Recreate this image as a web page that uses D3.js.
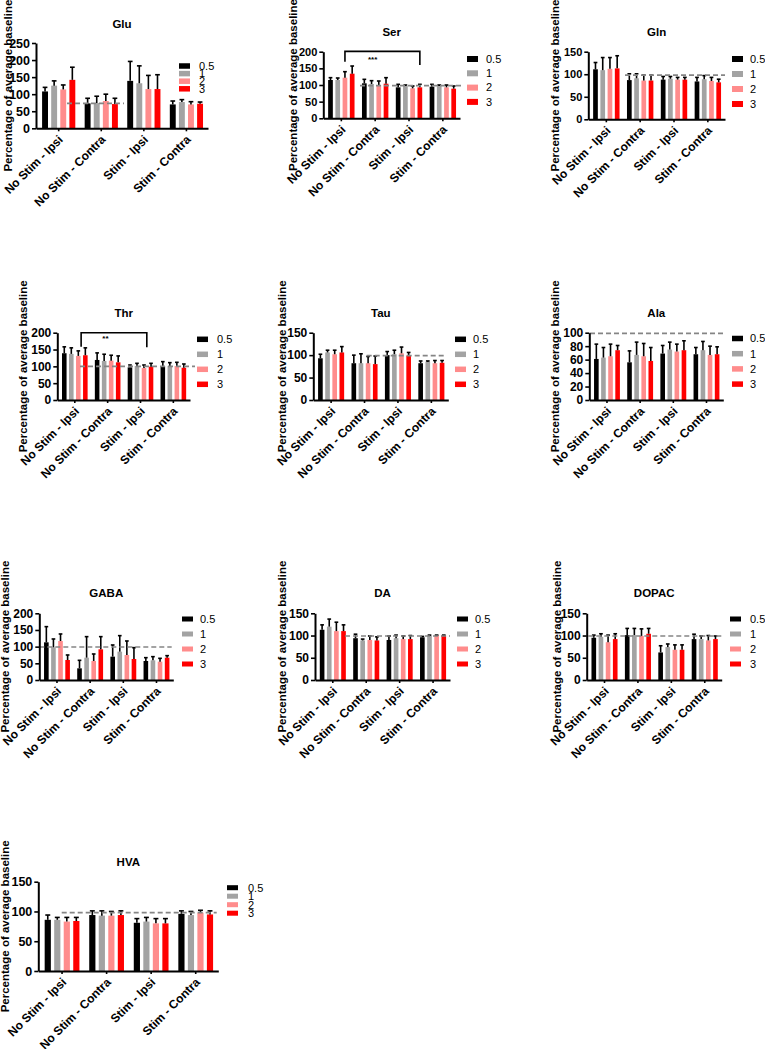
<!DOCTYPE html>
<html>
<head>
<meta charset="utf-8">
<script src="https://cdn.jsdelivr.net/npm/d3@7"></script>
<style>
  html, body { margin: 0; padding: 0; background: #fff; }
  svg { display: block; }
  text { font-family: "Liberation Sans", Arial, sans-serif; }
</style>
</head>
<body>
<script>
// ---------------- DATA ----------------
const categories = ["No Stim - Ipsi", "No Stim - Contra", "Stim - Ipsi", "Stim - Contra"];
const seriesNames = ["0.5", "1", "2", "3"];
const yLabel = "Percentage of average baseline";

// means [category][series]
const gluMean = [[108,125,114,142],[73,74,80,71],[139,132,115,115],[70,77,70,72]];
const gluSem  = [[12,14,13,37],[15,20,20,17],[57,51,40,42],[10,7,8,5]];
const serMean = [[115,115,122,134],[105,103,100,104],[93,97,90,93],[95,97,93,89]];
const serSem  = [[7,6,18,23],[12,10,12,18],[9,3,7,9],[7,3,7,8]];
const glnMean = [[111,109,112,113],[87,91,86,86],[88,90,88,88],[84,89,85,82]];
const glnSem  = [[15,28,25,28],[14,10,12,12],[7,5,5,5],[9,8,8,7]];
const thrMean = [[139,137,131,133],[119,116,117,112],[97,101,95,99],[101,101,101,96]];
const thrSem  = [[19,18,15,22],[21,20,16,19],[7,8,9,10],[13,10,11,11]];
const tauMean = [[93,106,102,106],[82,82,82,80],[100,102,104,99],[82,85,82,83]];
const tauSem  = [[9,5,9,13],[18,21,15,18],[8,9,14,7],[5,2,6,5]];
const alaMean = [[61,63,65,74],[56,67,65,58],[69,75,72,74],[68,74,67,68]];
const alaSem  = [[22,15,18,7],[17,19,19,20],[12,11,11,14],[10,13,13,11]];
const gabaMean = [[113,98,117,60],[35,67,57,92],[70,85,75,63],[57,59,55,67]];
const gabaSem  = [[47,25,21,15],[24,63,21,38],[35,48,42,34],[10,11,10,6]];
const daMean = [[113,120,110,110],[94,89,90,89],[90,94,92,92],[96,99,100,100]];
const daSem  = [[11,17,20,14],[9,3,9,8],[9,7,7,8],[2,2,1,1]];
const dopacMean = [[95,97,85,92],[101,101,99,104],[62,74,68,68],[92,92,89,92]];
const dopacSem  = [[6,7,16,12],[15,15,16,12],[15,7,11,11],[11,7,11,7]];
const hvaMean = [[86,86,83,84],[94,93,93,94],[81,83,80,80],[96,94,98,95]];
const hvaSem  = [[8,4,7,6],[7,8,7,7],[7,7,8,8],[5,6,4,6]];

// y-axis maxima and tick steps
const yMax  = {Glu:250, Ser:200, Gln:150, Thr:200, Tau:150, Ala:100, GABA:200, DA:150, DOPAC:150, HVA:150};
const yStep = {Glu:50,  Ser:50,  Gln:50,  Thr:50,  Tau:50,  Ala:20,  GABA:50,  DA:50,  DOPAC:50,  HVA:50};
// dashed reference (baseline) level
const baseline = {Glu:73, Ser:98, Gln:98, Thr:100, Tau:99, Ala:99, GABA:99, DA:99, DOPAC:99, HVA:98};
// significance brackets: [catIndex, seriesPos] ends, levels [leftEnd, top, rightEnd], label
const sigSer = {from:[0,2], to:[2,3], levels:[170,201,160], text:"***", textLevel:178};
const sigThr = {from:[0,2.4], to:[2,2.4], levels:[158,200,157], text:"**", textLevel:183};

const panelData = [
  {name:"Glu", mean:gluMean, sem:gluSem},
  {name:"Ser", mean:serMean, sem:serSem, sig:sigSer},
  {name:"Gln", mean:glnMean, sem:glnSem},
  {name:"Thr", mean:thrMean, sem:thrSem, sig:sigThr},
  {name:"Tau", mean:tauMean, sem:tauSem},
  {name:"Ala", mean:alaMean, sem:alaSem},
  {name:"GABA", mean:gabaMean, sem:gabaSem},
  {name:"DA", mean:daMean, sem:daSem},
  {name:"DOPAC", mean:dopacMean, sem:dopacSem},
  {name:"HVA", mean:hvaMean, sem:hvaSem}
];

// ---------------- LAYOUT / STYLE ----------------
const colors = ["#000000", "#a3a3a3", "#ff8c8c", "#ff0000"];
const layout = {
  Glu:  {x0:36,    x1:208,   yTop:43,    yBot:128.3, titleY:24,    ylabX:8,   legX:179, legTX:199, legY0:66,    legDy:7.6,  swH:5.5, tf:12.5, lf:11, dash:[67,124]},
  Ser:  {x0:323.3, x1:460,   yTop:51.7,  yBot:118.3, titleY:32,    ylabX:293, legX:467, legTX:486, legY0:59,    legDy:14.3, swH:6,   tf:11,   lf:11, dash:[360,463]},
  Gln:  {x0:588.3, x1:725,   yTop:51.7,  yBot:119.3, titleY:32,    ylabX:555, legX:732, legTX:750, legY0:59,    legDy:15,   swH:6,   tf:11,   lf:11, dash:[625,725]},
  Thr:  {x0:57.3,  x1:190,   yTop:332.7, yBot:400,   titleY:313,   ylabX:23,  legX:197, legTX:217, legY0:339.3, legDy:15,   swH:5.5, tf:12,   lf:11, dash:[80,195]},
  Tau:  {x0:313.3, x1:448.3, yTop:332.7, yBot:400,   titleY:313,   ylabX:282, legX:455, legTX:473, legY0:339.3, legDy:15,   swH:5.5, tf:12,   lf:11, dash:[366.7,445]},
  Ala:  {x0:589.3, x1:723.3, yTop:332.7, yBot:400,   titleY:313,   ylabX:555, legX:732, legTX:750, legY0:338.5, legDy:15.2, swH:5.5, tf:12,   lf:11, dash:[590,723]},
  GABA: {x0:39.3,  x1:173.3, yTop:613.3, yBot:680,   titleY:593.3, ylabX:5,   legX:182, legTX:200, legY0:619,   legDy:15,   swH:5,   tf:12,   lf:11, dash:[39.3,171.7]},
  DA:   {x0:315,   x1:450,   yTop:613.3, yBot:680,   titleY:593.3, ylabX:282, legX:457, legTX:475, legY0:619,   legDy:15,   swH:5,   tf:12,   lf:11, dash:[345,450]},
  DOPAC:{x0:586.7, x1:721.7, yTop:613.3, yBot:680,   titleY:593.3, ylabX:557, legX:730, legTX:750, legY0:619,   legDy:15,   swH:5,   tf:12,   lf:11, dash:[588.3,723.3]},
  HVA:  {x0:38.3,  x1:218.3, yTop:881.7, yBot:971,   titleY:861.7, ylabX:5,   legX:227, legTX:248, legY0:887.7, legDy:8.5,  swH:5,   tf:12.5, lf:11, dash:[61.7,216.7]}
};

const W = 765, H = 1049;
const svg = d3.select("body").append("svg").attr("width", W).attr("height", H);
svg.append("rect").attr("width", W).attr("height", H).attr("fill", "#fff");

panelData.forEach(p => {
  const L = layout[p.name];
  const g = svg.append("g");
  const x = d3.scaleBand().domain(categories).range([L.x0, L.x1])
    .paddingInner(0.22).paddingOuter(0.13).align(0.55);
  const xi = d3.scaleBand().domain(seriesNames).range([0, x.bandwidth()]).paddingInner(0.35);
  const y = d3.scaleLinear().domain([0, yMax[p.name]]).range([L.yBot, L.yTop]);

  // bars
  categories.forEach((c, ci) => {
    seriesNames.forEach((s, si) => {
      const m = p.mean[ci][si], e = p.sem[ci][si];
      const bx = x(c) + xi(s), bw = xi.bandwidth();
      g.append("rect").attr("x", bx).attr("y", y(m)).attr("width", bw)
        .attr("height", y(0) - y(m)).attr("fill", colors[si]);
      const cx = bx + bw / 2;
      g.append("line").attr("x1", cx).attr("x2", cx).attr("y1", y(m)).attr("y2", y(m + e))
        .attr("stroke", "#000").attr("stroke-width", 1.6);
      g.append("line").attr("x1", cx - bw * 0.4).attr("x2", cx + bw * 0.4)
        .attr("y1", y(m + e)).attr("y2", y(m + e))
        .attr("stroke", "#000").attr("stroke-width", 1.6);
    });
  });

  // dashed baseline
  g.append("line").attr("x1", L.dash[0]).attr("x2", L.dash[1])
    .attr("y1", y(baseline[p.name])).attr("y2", y(baseline[p.name]))
    .attr("stroke", "#858585").attr("stroke-width", 1.6).attr("stroke-dasharray", "5,3");

  // y axis
  const ya = g.append("g").attr("transform", `translate(${L.x0},0)`)
    .call(d3.axisLeft(y).tickValues(d3.range(0, yMax[p.name] + 1, yStep[p.name]))
      .tickSize(4).tickSizeOuter(0).tickPadding(2));
  ya.select(".domain").attr("stroke-width", 2);
  ya.selectAll(".tick line").attr("stroke-width", 1.6);
  ya.selectAll(".tick text").attr("font-size", L.tf).attr("font-weight", "bold")
    .attr("font-family", "Liberation Sans, Arial, sans-serif").attr("fill", "#000");

  // x axis
  const xa = g.append("g").attr("transform", `translate(0,${L.yBot})`)
    .call(d3.axisBottom(x).tickSize(3).tickSizeOuter(0));
  xa.select(".domain").attr("stroke-width", 2);
  xa.selectAll(".tick line").attr("stroke-width", 1.6);
  xa.selectAll(".tick text").attr("font-size", 12).attr("font-weight", "bold")
    .attr("font-family", "Liberation Sans, Arial, sans-serif").attr("fill", "#000")
    .attr("text-anchor", "end").attr("x", 0).attr("y", 0).attr("dy", 0)
    .attr("transform", "translate(5,12) rotate(-45)");

  // title
  g.append("text").attr("x", (L.x0 + L.x1) / 2).attr("y", L.titleY).attr("dy", "0.35em")
    .attr("text-anchor", "middle").attr("font-size", 11.5).attr("font-weight", "bold").text(p.name);

  // y label
  g.append("text").attr("transform", `translate(${L.ylabX},${(L.yTop + L.yBot) / 2}) rotate(-90)`)
    .attr("dy", "0.35em").attr("text-anchor", "middle").attr("font-size", 11.5)
    .attr("font-weight", "bold").text(yLabel);

  // legend
  seriesNames.forEach((s, si) => {
    const ly = L.legY0 + si * L.legDy;
    g.append("rect").attr("x", L.legX).attr("y", ly - L.swH / 2).attr("width", 11)
      .attr("height", L.swH).attr("fill", colors[si]);
    g.append("text").attr("x", L.legTX).attr("y", ly).attr("dy", "0.35em")
      .attr("font-size", L.lf).text(s);
  });

  // significance bracket
  if (p.sig) {
    const sg = p.sig;
    const bx = d => x(categories[d[0]]) + xi.step() * d[1] + xi.bandwidth() / 2;
    const xl = bx(sg.from), xr = bx(sg.to);
    g.append("path")
      .attr("d", `M${xl},${y(sg.levels[0])}V${y(sg.levels[1])}H${xr}V${y(sg.levels[2])}`)
      .attr("fill", "none").attr("stroke", "#000").attr("stroke-width", 1.6);
    g.append("text").attr("x", xl + (xr - xl) * 0.37).attr("y", y(sg.textLevel)).attr("dy", "0.35em")
      .attr("text-anchor", "middle").attr("font-size", 8).attr("font-weight", "bold").text(sg.text);
  }
});
</script>
</body>
</html>
